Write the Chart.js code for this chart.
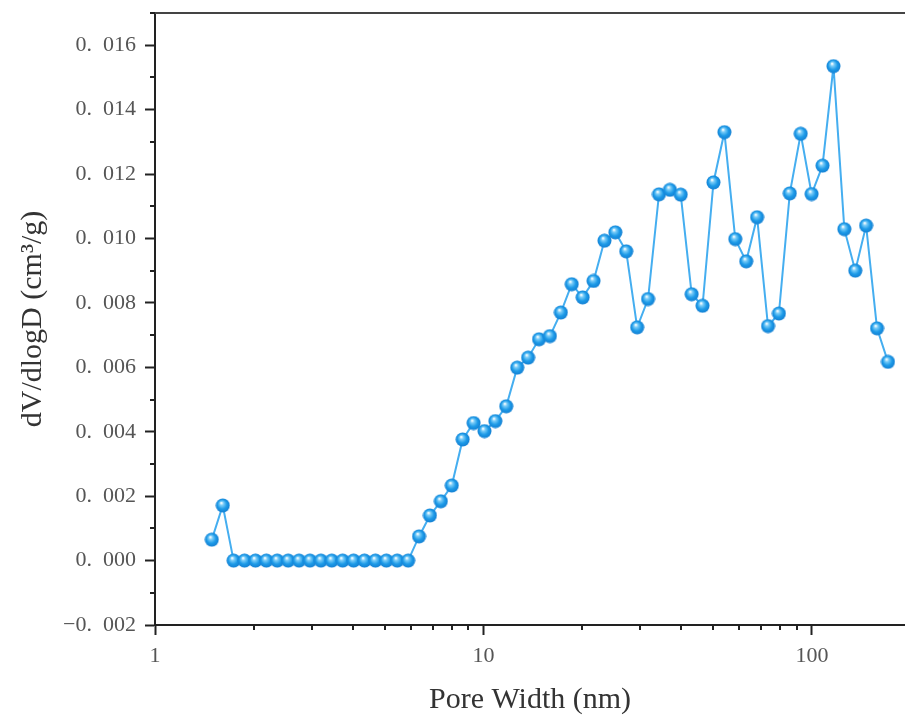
<!DOCTYPE html>
<html>
<head>
<meta charset="utf-8">
<script src="https://cdn.jsdelivr.net/npm/chart.js@4"></script>
<style>
  html, body { margin: 0; background: #fff; overflow: hidden; }
  #wrap { width: 905px; height: 720px; }
</style>
</head>
<body>
<div id="wrap"><canvas id="chart-psd"></canvas></div>
<script>
// pore width (nm)
const poreWidth = [
  1.489, 1.608, 1.735, 1.873, 2.022, 2.183, 2.356, 2.543, 2.745, 2.963,
  3.199, 3.453, 3.727, 4.023, 4.343, 4.688, 5.061, 5.463, 5.897, 6.366,
  6.871, 7.418, 8.007, 8.643, 9.329, 10.07, 10.87, 11.73, 12.67, 13.67,
  14.76, 15.93, 17.20, 18.56, 20.04, 21.63, 23.35, 25.20, 27.20, 29.37,
  31.70, 34.22, 36.94, 39.86, 43.04, 46.45, 50.14, 54.13, 58.43, 63.07,
  68.08, 73.49, 79.32, 85.62, 92.43, 99.77, 107.7, 116.3, 125.5, 135.5,
  146.2, 157.8, 170.4
];

// dV/dlogD (cm3/g)
const dVdlogD = [
  0.00065, 0.00171, 0, 0, 0, 0, 0, 0, 0, 0,
  0, 0, 0, 0, 0, 0, 0, 0, 0, 0.00075,
  0.00140, 0.00184, 0.00233, 0.00376, 0.00427, 0.00402, 0.00433, 0.00479, 0.00599, 0.00630,
  0.00687, 0.00697, 0.00770, 0.00858, 0.00817, 0.00868, 0.00993, 0.01019, 0.00960, 0.00724,
  0.00812, 0.01137, 0.01151, 0.01136, 0.00827, 0.00791, 0.01174, 0.01330, 0.00998, 0.00929,
  0.01066, 0.00728, 0.00767, 0.01140, 0.01325, 0.01138, 0.01226, 0.01535, 0.01029, 0.00900,
  0.01040, 0.00721, 0.00617
];

const xTickValues = [1, 2, 3, 4, 5, 6, 7, 8, 9, 10, 20, 30, 40, 50, 60, 70, 80, 90, 100];
const xTickLabels = { 1: '1', 10: '10', 100: '100' };
const yMin = -0.002;
const yMax = 0.017;
const yStep = 0.001;

const ink = '#222';
const tickText = '#555';
const lineBlue = '#45aef0';

// shaded ball used as the marker
function makeBall(d) {
  const c = document.createElement('canvas');
  c.width = c.height = d;
  const g = c.getContext('2d');
  const r = d / 2;
  const grad = g.createRadialGradient(r * 0.8, r * 0.65, r * 0.05, r, r, r);
  grad.addColorStop(0, '#ffffff');
  grad.addColorStop(0.22, '#7ccdf8');
  grad.addColorStop(0.6, '#1c9ae8');
  grad.addColorStop(1, '#137ccf');
  g.fillStyle = grad;
  g.beginPath();
  g.arc(r, r, r - 0.5, 0, Math.PI * 2);
  g.fill();
  return c;
}

const isMajorY = v => Math.round(v / yStep) % 2 === 0;
const isMajorX = v => xTickLabels[v] !== undefined;

// "0. 016" style labels, en space after the point
function fmtY(v) {
  const s = Math.abs(v).toFixed(3).replace('.', '.\u2002');
  return v < -1e-9 ? '\u2212' + s : s;
}

// top frame line + short minor ticks
const framePlugin = {
  id: 'frame',
  afterDraw(chart) {
    const { ctx, chartArea: a, scales: { x, y } } = chart;
    ctx.save();
    ctx.strokeStyle = '#444';
    ctx.lineWidth = 2;
    ctx.beginPath();
    ctx.moveTo(a.left, a.top);
    ctx.lineTo(a.right, a.top);
    ctx.stroke();

    ctx.strokeStyle = ink;
    ctx.beginPath();
    y.ticks.forEach(t => {
      if (isMajorY(t.value)) return;
      const py = Math.round(y.getPixelForValue(t.value));
      ctx.moveTo(a.left - 5, py);
      ctx.lineTo(a.left, py);
    });
    x.ticks.forEach(t => {
      if (isMajorX(t.value)) return;
      const px = Math.round(x.getPixelForValue(t.value));
      ctx.moveTo(px, a.bottom);
      ctx.lineTo(px, a.bottom + 5);
    });
    ctx.stroke();
    ctx.restore();
  }
};

const ctx = document.getElementById('chart-psd').getContext('2d');

new Chart(ctx, {
  type: 'line',
  data: {
    datasets: [{
      data: poreWidth.map((w, i) => ({ x: w, y: dVdlogD[i] })),
      borderColor: lineBlue,
      borderWidth: 2,
      pointStyle: makeBall(15),
      pointRadius: 7,
      pointHoverRadius: 7,
      tension: 0,
      fill: false
    }]
  },
  options: {
    responsive: true,
    maintainAspectRatio: false,
    animation: false,
    layout: { autoPadding: false, padding: { top: 13, right: 0, left: 0, bottom: 0 } },
    plugins: {
      legend: { display: false },
      tooltip: { enabled: false }
    },
    scales: {
      x: {
        type: 'logarithmic',
        min: 1,
        max: 192,
        afterBuildTicks: scale => {
          scale.ticks = xTickValues.map(v => ({ value: v, major: isMajorX(v) }));
        },
        afterFit: scale => { scale.height = 95; },
        border: { display: true, color: ink, width: 2 },
        grid: {
          drawOnChartArea: false,
          tickLength: 10,
          tickWidth: 2,
          tickColor: c => (c.tick && isMajorX(c.tick.value)) ? ink : 'rgba(0,0,0,0)'
        },
        ticks: {
          autoSkip: false,
          maxRotation: 0,
          padding: 8,
          color: tickText,
          font: { family: 'Liberation Serif', size: 22 },
          callback: v => xTickLabels[v] || ''
        },
        title: {
          display: true,
          text: 'Pore Width (nm)',
          color: '#333',
          font: { family: 'Liberation Serif', size: 30 },
          padding: { top: 0, bottom: 2 }
        }
      },
      y: {
        min: yMin,
        max: yMax,
        afterFit: scale => {
          scale.width = 155;
          scale.paddingTop = 0;
          scale.paddingBottom = 0;
        },
        border: { display: true, color: ink, width: 2 },
        grid: {
          drawOnChartArea: false,
          tickLength: 10,
          tickWidth: 2,
          tickColor: c => (c.tick && isMajorY(c.tick.value)) ? ink : 'rgba(0,0,0,0)'
        },
        ticks: {
          stepSize: yStep,
          autoSkip: false,
          padding: 9,
          color: tickText,
          font: { family: 'Liberation Serif', size: 22 },
          callback: v => isMajorY(v) ? fmtY(v) : ''
        },
        title: {
          display: true,
          text: 'dV/dlogD (cm\u00b3/g)',
          color: '#333',
          font: { family: 'Liberation Serif', size: 30 },
          padding: { top: 15, bottom: 0 }
        }
      }
    }
  },
  plugins: [framePlugin]
});
</script>
</body>
</html>
